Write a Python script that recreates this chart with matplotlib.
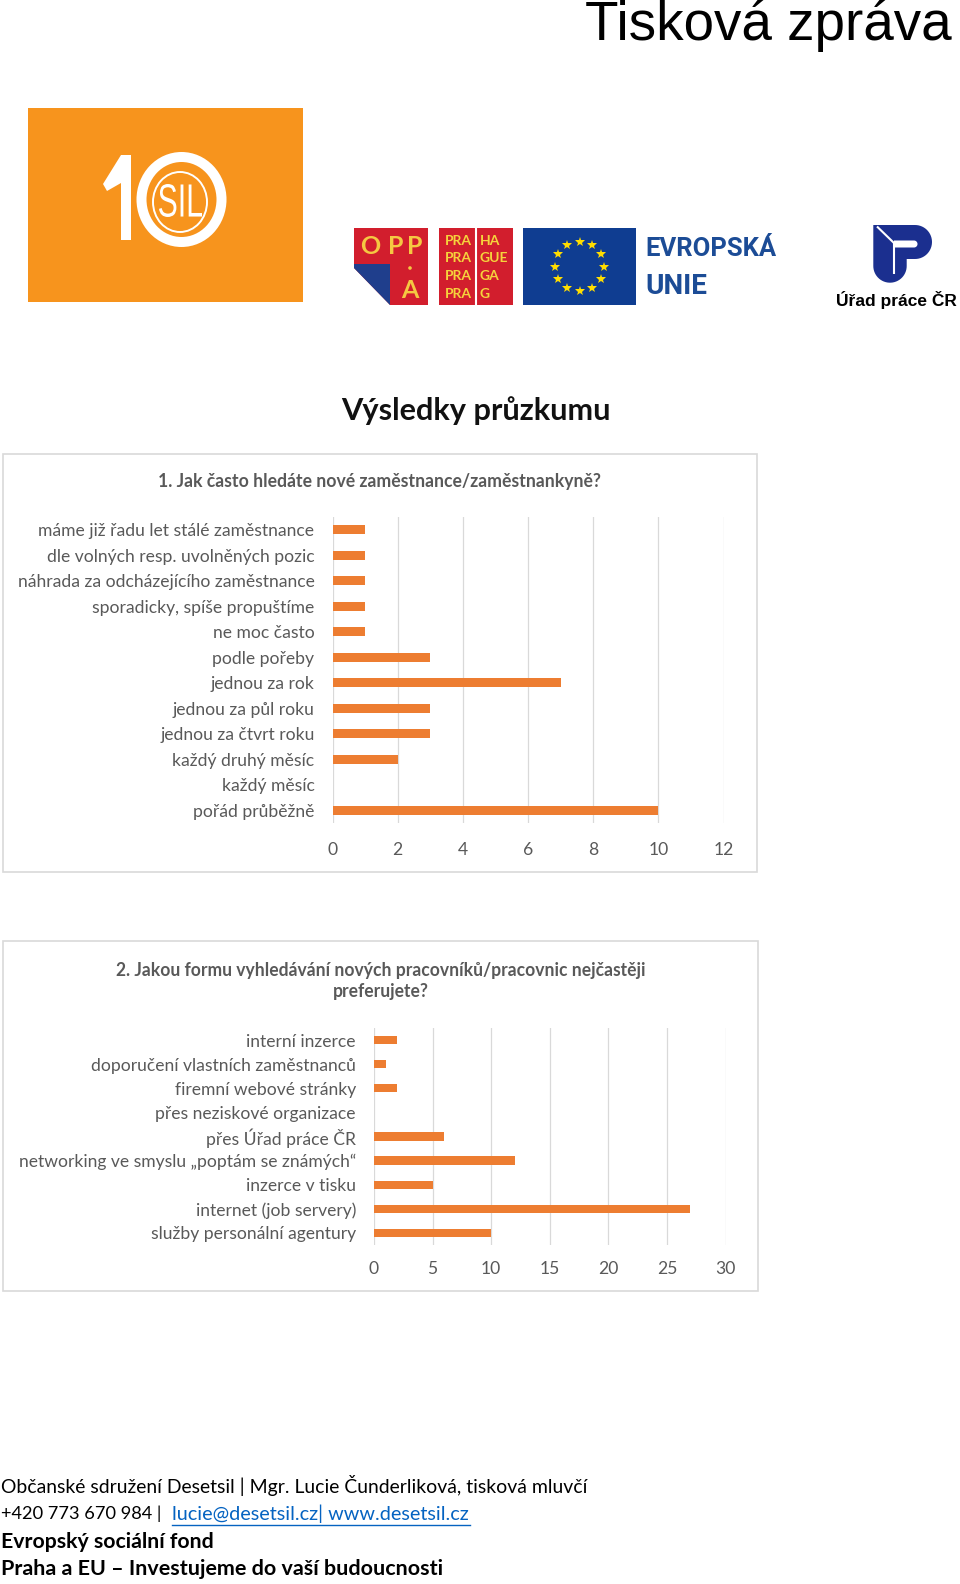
import matplotlib
matplotlib.use("Agg")
import matplotlib.pyplot as plt
from matplotlib import font_manager
from matplotlib.font_manager import FontProperties
from matplotlib.textpath import TextPath
from matplotlib.transforms import Affine2D
from matplotlib.patches import Rectangle, Polygon, Circle, PathPatch, Ellipse
import numpy as np

# ---------------- data ----------------
q1_title = "1. Jak často hledáte nové zaměstnance/zaměstnankyně?"
q1_categories = [
    "máme již řadu let stálé zaměstnance",
    "dle volných resp. uvolněných pozic",
    "náhrada za odcházejícího zaměstnance",
    "sporadicky, spíše propuštíme",
    "ne moc často",
    "podle pořeby",
    "jednou za rok",
    "jednou za půl roku",
    "jednou za čtvrt roku",
    "každý druhý měsíc",
    "každý měsíc",
    "pořád průběžně",
]
q1_values = [1, 1, 1, 1, 1, 3, 7, 3, 3, 2, 0, 10]
q1_ticks = [0, 2, 4, 6, 8, 10, 12]

q2_title = "2. Jakou formu vyhledávání nových pracovníků/pracovnic nejčastěji\npreferujete?"
q2_categories = [
    "interní inzerce",
    "doporučení vlastních zaměstnanců",
    "firemní webové stránky",
    "přes neziskové organizace",
    "přes Úřad práce ČR",
    "networking ve smyslu „poptám se známých“",
    "inzerce v tisku",
    "internet (job servery)",
    "služby personální agentury",
]
q2_values = [2, 1, 2, 0, 6, 12, 5, 27, 10]
q2_ticks = [0, 5, 10, 15, 20, 25, 30]

header_text = "Tisková zpráva"
section_title = "Výsledky průzkumu"
footer_line1 = "Občanské sdružení Desetsil | Mgr. Lucie Čunderliková, tisková mluvčí"
footer_phone = "+420 773 670 984 |"
footer_links = "lucie@desetsil.cz| www.desetsil.cz"
footer_line3 = "Evropský sociální fond"
footer_line4 = "Praha a EU – Investujeme do vaší budoucnosti"

# ---------------- setup ----------------
W, H = 960, 1584
fig = plt.figure(figsize=(W / 100, H / 100), dpi=100)
fig.patch.set_facecolor("white")
page = fig.add_axes([0, 0, 1, 1], zorder=0)
page.set_xlim(0, W)
page.set_ylim(H, 0)
page.axis("off")
renderer = fig.canvas.get_renderer()

names = {f.name for f in font_manager.fontManager.ttflist}
NARROW = "Liberation Sans Narrow" if "Liberation Sans Narrow" in names else "Liberation Sans"
BODY = "Lato"

ORANGE = "#ED7D31"
GREY_TXT = "#595959"
GRID = "#D9D9D9"


def size_for(text, target_w, **kw):
    t = fig.text(0, 0, text, fontsize=20, **kw)
    w = t.get_window_extent(renderer).width
    t.remove()
    return 20 * target_w / w


def ptext(x, y, s, target_w=None, size=12, **kw):
    if target_w is not None:
        size = size_for(s, target_w, **{k: v for k, v in kw.items() if k in ("family", "weight")})
    return page.text(x, y, s, fontsize=size, **kw)


def box_text(s, x0, y0, x1, y1, color, **fp):
    """Glyph outlines stretched into the pixel box (x0,y0)-(x1,y1) on the page."""
    tp = TextPath((0, 0), s, size=1, prop=FontProperties(**fp))
    ext = tp.get_extents()
    sx = (x1 - x0) / ext.width
    sy = (y1 - y0) / ext.height
    tr = Affine2D().translate(-ext.x0, -ext.y0).scale(sx, -sy).translate(x0, y1)
    path = tr.transform_path(tp)
    page.add_patch(PathPatch(path, facecolor=color, edgecolor="none"))


def ax_px(x0, y0, x1, y1):
    return fig.add_axes([x0 / W, 1 - y1 / H, (x1 - x0) / W, (y1 - y0) / H], zorder=2)


# ---------------- header ----------------
ptext(952, 40.5, header_text, target_w=366, family="Liberation Sans",
      ha="right", va="baseline", color="black")

# 10SIL logo
page.add_patch(Rectangle((28, 108), 275, 194, facecolor="#F7941D", edgecolor="none"))
page.add_patch(Polygon([(121, 155), (131, 155), (131, 240), (121, 240), (121, 183),
                        (107, 191), (103, 184)], closed=True, facecolor="white", edgecolor="none"))
page.add_patch(Ellipse((181.5, 199.5), 2 * 40, 2 * 42.5, facecolor="none",
                       edgecolor="white", linewidth=7.2))
page.add_patch(Ellipse((180, 202), 54, 60, facecolor="none", edgecolor="white", linewidth=1.4))
box_text("SIL", 159, 184, 202, 217, "white", family=NARROW)

# OPPA logo
OPP_Y = "#F5C842"
page.add_patch(Rectangle((354, 228), 74, 77, facecolor="#D21E2D", edgecolor="none"))
page.add_patch(Polygon([(354, 268), (354, 306), (391, 306)], closed=True,
                       facecolor="white", edgecolor="none"))
page.add_patch(Polygon([(354, 264), (390, 264), (390, 305), (354, 268)], closed=True,
                       facecolor="#1F3E8C", edgecolor="none"))
for cx, ch in zip([370.5, 395.5, 414.5], "OPP"):
    ptext(cx, 247, ch, size=18, family=BODY, weight="bold", color=OPP_Y,
          ha="center", va="center")
ptext(410, 291, "A", size=18, family=BODY, weight="bold", color=OPP_Y, ha="center", va="center")
page.add_patch(Circle((410, 268), 1.8, facecolor=OPP_Y, edgecolor="none"))

# PRAHA logo
page.add_patch(Rectangle((439, 228), 74, 77, facecolor="#D21E2D", edgecolor="none"))
page.plot([476, 476], [228, 305], color="white", lw=1.5)
for yy, right in zip([241, 258.5, 276, 293.5], ["HA", "GUE", "GA", "G"]):
    ptext(445, yy, "PRA", size=10, family=BODY, weight="bold", color="#F5D33C",
          ha="left", va="center")
    ptext(480, yy, right, size=10, family=BODY, weight="bold", color="#F5D33C",
          ha="left", va="center")

# EU flag
page.add_patch(Rectangle((523, 228), 113, 77, facecolor="#0F3D91", edgecolor="none"))
ang = np.linspace(0, 2 * np.pi, 13)[:-1]
page.plot(579.5 + 24.5 * np.cos(ang), 266.5 + 24.5 * np.sin(ang), linestyle="none",
          marker="*", markersize=7.5, color="#FFDD00", markeredgewidth=0)
ptext(645, 249, "EVROPSKÁ", target_w=131, family="Roboto", weight="bold",
      color="#1C4C96", ha="left", va="center")
ptext(645, 287, "UNIE", target_w=62, family="Roboto", weight="bold",
      color="#1C4C96", ha="left", va="center")

# Urad prace logo
UPB = "#1B2F8F"
t_top = np.linspace(-np.pi / 2, np.pi / 2, 30)
bowl = [(915 + 17 * np.cos(t), 242 + 17 * np.sin(t)) for t in t_top]
t_bot = np.linspace(0, np.pi, 30)
bottom = [(890 + 16.7 * np.cos(t), 266 + 16.7 * np.sin(t)) for t in t_bot]
shape = [(873.3, 225)] + bowl + [(906.7, 259)] + bottom + [(873.3, 266)]
page.add_patch(Polygon(shape, closed=True, facecolor=UPB, edgecolor="none"))
slot = [(894, 240.5)] + [(914 + 3.5 * np.cos(t), 244 + 3.5 * np.sin(t)) for t in t_top] + [(894, 247.5)]
page.add_patch(Polygon(slot, closed=True, facecolor="white", edgecolor="none"))
page.plot([877, 894], [226.5, 243], color="white", lw=1.5, solid_capstyle="butt")
page.plot([893.5, 893.5], [243, 274], color="white", lw=1.5, solid_capstyle="butt")
ptext(896.5, 300, "Úřad práce ČR", target_w=121, family="Liberation Sans", weight="bold",
      color="black", ha="center", va="center")

# section title
ptext(476, 411, section_title, target_w=270, family=BODY, weight="bold",
      color="#111111", ha="center", va="center")

# ---------------- charts ----------------
page.add_patch(Rectangle((3, 454), 754, 418, facecolor="white", edgecolor=GRID, linewidth=1.2))
page.add_patch(Rectangle((3, 941), 755, 350, facecolor="white", edgecolor=GRID, linewidth=1.2))

ptext(379.5, 481.5, q1_title, target_w=441, family=BODY, weight="bold",
      color=GREY_TXT, ha="center", va="center")
ptext(380.5, 981, q2_title, size=size_for(q2_title.split("\n")[0], 528, family=BODY, weight="bold"),
      family=BODY, weight="bold", color=GREY_TXT, ha="center", va="center", linespacing=1.33)

lab1 = size_for("náhrada za odcházejícího zaměstnance", 297, family=BODY)
lab2 = size_for("networking ve smyslu „poptám se známých“", 338, family=BODY)


def bar_chart(ax, cats, vals, ticks, lab_size, xpad, height):
    y = np.arange(len(cats))
    ax.barh(y, vals, height=height, color=ORANGE, zorder=3)
    ax.set_ylim(len(cats) - 0.5, -0.5)
    ax.set_xlim(ticks[0], ticks[-1])
    ax.set_xticks(ticks)
    ax.set_yticks(y)
    ax.set_yticklabels(cats)
    ax.grid(axis="x", color=GRID, linewidth=0.9, zorder=0)
    ax.set_axisbelow(True)
    for s in ax.spines.values():
        s.set_visible(False)
    ax.tick_params(axis="both", length=0, colors=GREY_TXT, labelsize=lab_size)
    ax.tick_params(axis="y", pad=13)
    ax.tick_params(axis="x", pad=xpad)
    for t in ax.get_xticklabels() + ax.get_yticklabels():
        t.set_family(BODY)
    ax.set_facecolor("none")


ax1 = ax_px(332.5, 517, 723.5, 823)
bar_chart(ax1, q1_categories, q1_values, q1_ticks, lab1, 13.8, 0.34)
ax2 = ax_px(374, 1028, 725.5, 1245)
bar_chart(ax2, q2_categories, q2_values, q2_ticks, lab2, 11.3, 0.35)

# ---------------- footer ----------------
ptext(1, 1485, footer_line1, target_w=586, family=BODY, color="black", ha="left", va="center")
ptext(1, 1514, footer_phone, target_w=161, family=BODY, color="black", ha="left", va="center")
x_link = 172
ptext(x_link, 1514, footer_links, target_w=298, family=BODY, color="#0563C1",
      ha="left", va="center")
page.plot([x_link, x_link + 298], [1524.5, 1524.5], color="#0563C1", lw=1.0)
ptext(1, 1541.5, footer_line3, target_w=212, family=BODY, weight="bold", color="black",
      ha="left", va="center")
ptext(1, 1569, footer_line4, target_w=441, family=BODY, weight="bold", color="black",
      ha="left", va="center")

fig.savefig("out.png", dpi=100, facecolor="white")
